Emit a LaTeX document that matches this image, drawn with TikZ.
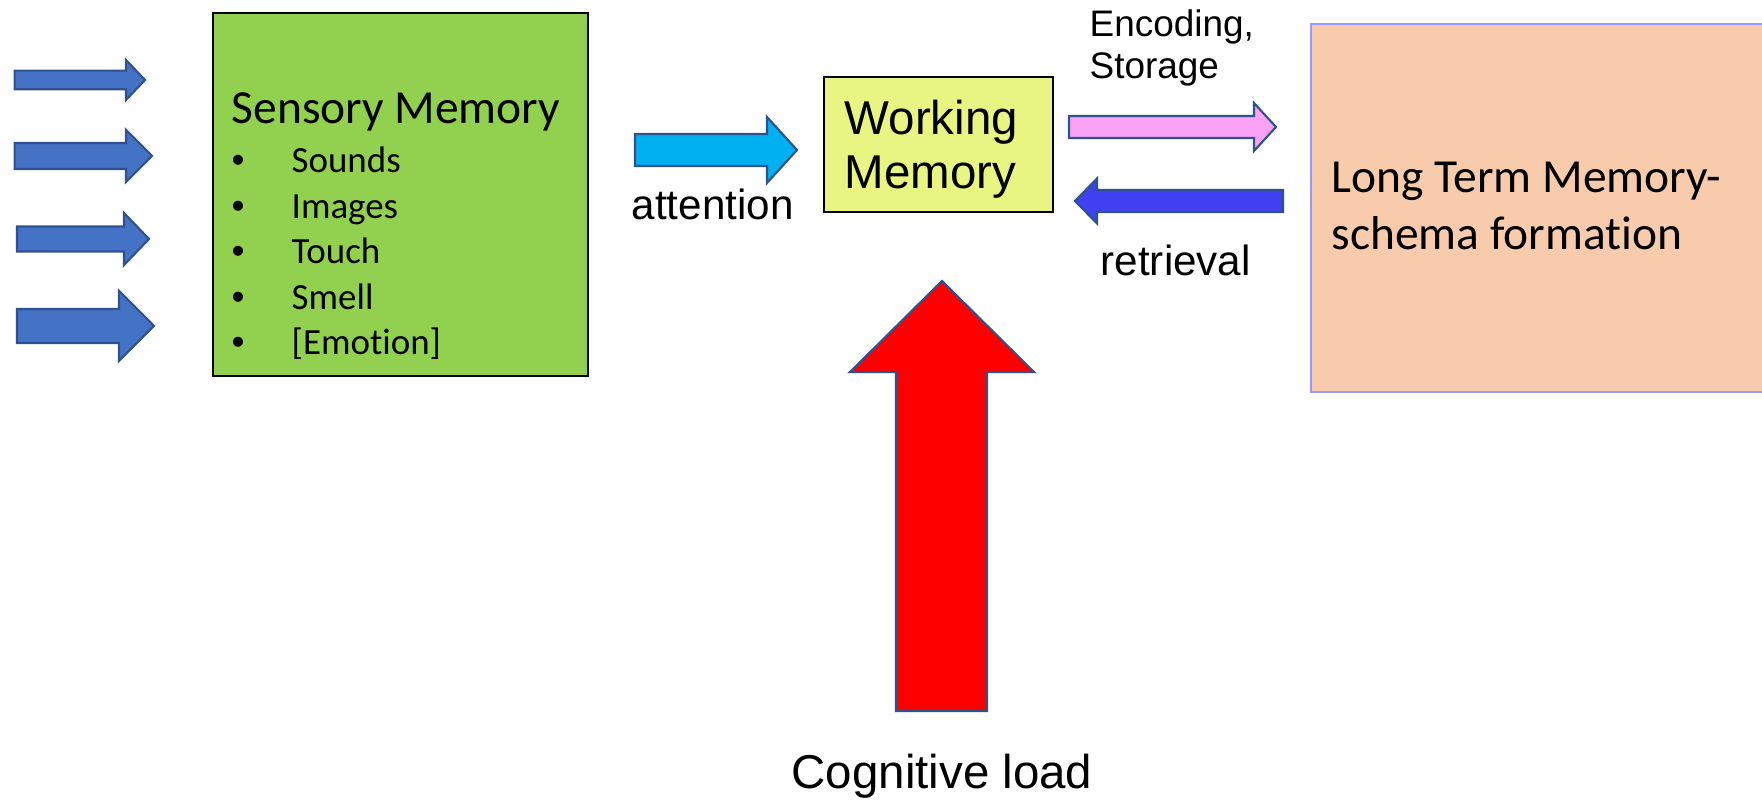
\documentclass[tikz,border=0pt]{standalone}
\usepackage{fontspec}
\newfontfamily\calfont[Ligatures=NoCommon]{Carlito}
\newfontfamily\arialfont{Liberation Sans}
\definecolor{arrowblue}{RGB}{68,114,196}
\definecolor{edgeblue}{RGB}{47,82,143}
\definecolor{smgreen}{RGB}{146,208,80}
\definecolor{wmyellow}{RGB}{232,245,130}
\definecolor{attcyan}{RGB}{0,176,240}
\definecolor{encpink}{RGB}{250,162,245}
\definecolor{retblue}{RGB}{64,64,240}
\definecolor{ltmpeach}{RGB}{248,203,173}
\definecolor{ltmedge}{RGB}{153,153,255}
\newcommand{\rarrow}[7]{% style, tail x, tip x, head x, center y, shaft half, head half
  \draw[#1] (#2,{#5-#6}) -- (#4,{#5-#6}) -- (#4,{#5-#7}) -- (#3,#5) -- (#4,{#5+#7}) -- (#4,{#5+#6}) -- (#2,{#5+#6}) -- cycle;}
\tikzset{
  blockarrow/.style={draw=edgeblue, line width=0.6pt, line join=miter},
  membox/.style={draw, line width=0.6pt, inner sep=0pt, anchor=north west},
  caltext/.style={font=\calfont\fontsize{13.5}{16}\selectfont, inner sep=0pt, anchor=base west},
  itemtext/.style={font=\calfont\fontsize{10.5}{12.6}\selectfont, inner sep=0pt, anchor=base west},
  bullettext/.style={font=\arialfont\fontsize{10.5}{12.6}\selectfont, inner sep=0pt, anchor=base},
  arialbig/.style={font=\arialfont\fontsize{13.5}{16}\selectfont, inner sep=0pt, anchor=base west},
  arialmid/.style={font=\arialfont\fontsize{12}{14}\selectfont, inner sep=0pt, anchor=base west},
  arialsmall/.style={font=\arialfont\fontsize{10.5}{12.6}\selectfont, inner sep=0pt, anchor=base west},
}
\begin{document}
\begin{tikzpicture}[x=0.01cm,y=-0.01cm]
\useasboundingbox (0,0) rectangle (1762,801);
\clip (0,0) rectangle (1762,801);
\fill[white] (0,0) rectangle (1762,801);

% input arrows
\rarrow{blockarrow, fill=arrowblue}{14.6}{145}{126}{80}{9.3}{20}
\rarrow{blockarrow, fill=arrowblue}{14.6}{152}{126}{156}{13}{26}
\rarrow{blockarrow, fill=arrowblue}{17}{149}{124}{239}{12.5}{26}
\rarrow{blockarrow, fill=arrowblue}{17}{154}{119}{326}{17}{35}

% sensory memory
\node (sensory) [membox, fill=smgreen, minimum width=3.75cm, minimum height=3.63cm] at (212,12) {};
\node (smtitle) [caltext] at (231,124) {Sensory Memory};
\foreach \i/\t/\y in {1/Sounds/173, 2/Images/218.5, 3/Touch/264, 4/Smell/309.5, 5/{[Emotion]}/355} {
  \node (b\i) [bullettext] at (238,\y) {•};
  \node (it\i) [itemtext] at (291,\y) {\t};
}

% attention
\rarrow{blockarrow, fill=attcyan}{635}{797}{767}{150}{16}{33}
\node (att) [arialmid] at (631,220) {attention};

% working memory
\node (wm) [membox, fill=wmyellow, minimum width=2.29cm, minimum height=1.35cm] at (823,76) {};
\node (wm1) [arialbig] at (844,135) {Working};
\node (wm2) [arialbig] at (844,189) {Memory};

% encoding / retrieval
\node (enc1) [arialsmall] at (1089,37) {Encoding,};
\node (enc2) [arialsmall] at (1089,79) {Storage};
\rarrow{blockarrow, fill=encpink}{1069}{1276}{1254}{127}{11}{24}
\rarrow{blockarrow, fill=retblue}{1283}{1075}{1097}{201}{11}{22.5}
\node (ret) [arialmid] at (1100,276) {retrieval};

% long term memory
\node (ltm) [membox, draw=ltmedge, fill=ltmpeach, minimum width=4.6cm, minimum height=3.68cm] at (1310,23) {};
\node (ltm1) [caltext] at (1331,193) {Long Term Memory-};
\node (ltm2) [caltext] at (1331,250) {schema formation};

% cognitive load
\draw[blockarrow, fill=red] (942,281) -- (1034,372) -- (987,372) -- (987,711) -- (896,711) -- (896,372) -- (850,372) -- cycle;
\node (cl) [font=\arialfont\fontsize{13.5}{16}\selectfont, inner sep=0pt, anchor=base] at (942,789) {Cognitive load};
\end{tikzpicture}
\end{document}
